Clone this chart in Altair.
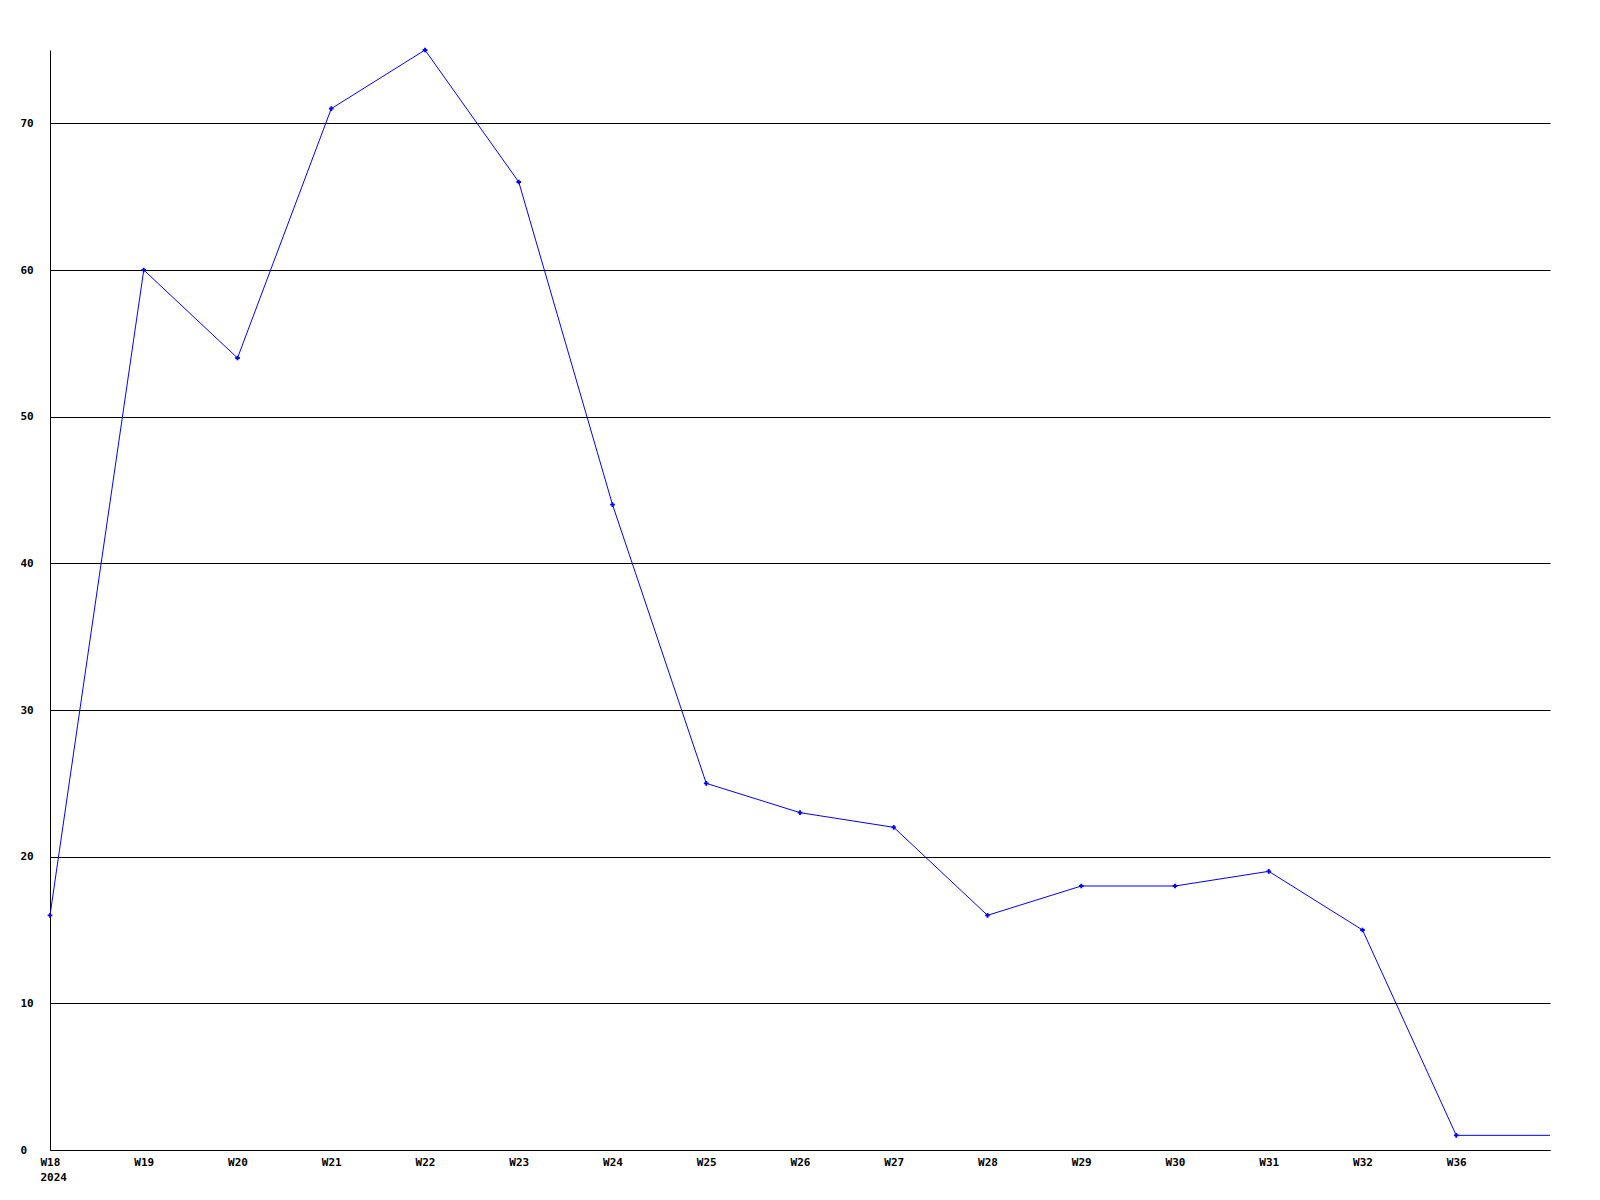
import altair as alt
import pandas as pd

weeks = ["W18", "W19", "W20", "W21", "W22", "W23", "W24", "W25", "W26", "W27",
         "W28", "W29", "W30", "W31", "W32", "W36", ""]
values = [16, 60, 54, 71, 75, 66, 44, 25, 23, 22, 16, 18, 18, 19, 15, 1, 1]
year_label = "2024"

df = pd.DataFrame({"idx": list(range(len(weeks))), "week": weeks, "value": values})

label_arr = "[" + ",".join("'" + w + "'" for w in weeks) + "]"
label_expr = (f"datum.value == 0 ? ['{weeks[0]}', '{year_label}'] : "
              f"{label_arr}[datum.value]")

x = alt.X("idx:Q",
          scale=alt.Scale(domain=[0, len(weeks) - 1], nice=False, zero=False),
          axis=alt.Axis(values=list(range(len(weeks) - 1)), labelExpr=label_expr,
                        title=None, grid=False, ticks=False, domainColor="black",
                        labelFont="DejaVu Sans Mono", labelFontWeight="bold",
                        labelFontSize=11, labelColor="black", labelPadding=6,
                        labelBaseline="top", labelLineHeight=15, labelFlush=False,
                        labelAlign={"condition": {"test": "datum.value == 0", "value": "left"},
                                    "value": "center"},
                        labelOffset={"condition": {"test": "datum.value == 0", "value": -10},
                                     "value": 0}))
y = alt.Y("value:Q",
          scale=alt.Scale(domain=[0, 75], nice=False),
          axis=alt.Axis(values=[0, 10, 20, 30, 40, 50, 60, 70], title=None,
                        grid=True, gridColor="black", gridOpacity=1, gridWidth=1,
                        ticks=False, domainColor="black",
                        labelFont="DejaVu Sans Mono", labelFontWeight="bold",
                        labelFontSize=11, labelColor="black", labelAlign="left",
                        labelPadding=30, labelBaseline="middle"))

line = alt.Chart(df).mark_line(color="#0000ff", strokeWidth=1).encode(x=x, y=y)
pts = alt.Chart(df).transform_filter(alt.datum.idx <= len(weeks) - 2).mark_point(
    shape="cross", filled=True, color="#0000ff", size=22, opacity=1
).encode(x="idx:Q", y="value:Q")

chart = (line + pts).properties(
    width=1500, height=1100,
    autosize=alt.AutoSizeParams(type="none"),
    padding={"left": 42, "top": 42, "right": 20, "bottom": 50},
).configure_view(stroke=None)

chart.save("out.html", embed_options={"renderer": "svg", "actions": False})
